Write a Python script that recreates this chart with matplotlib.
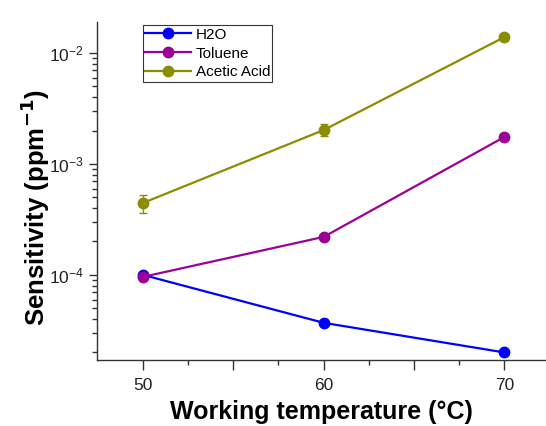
import numpy as np
import matplotlib
matplotlib.use("Agg")
import matplotlib.pyplot as plt

plt.rcParams['font.family'] = ['Liberation Sans', 'DejaVu Sans']

temps = [50, 60, 70]
h2o = [1.0e-4, 3.7e-5, 2.0e-5]
toluene = [9.6e-5, 2.2e-4, 1.75e-3]
acetic = [4.45e-4, 2.02e-3, 1.39e-2]
acetic_err = [8e-5, 2.5e-4, 0]

series = [
    ('H2O', h2o, None, '#0000FF'),
    ('Toluene', toluene, None, '#9C0096'),
    ('Acetic Acid', acetic, acetic_err, '#8C8C00'),
]

fig = plt.figure(figsize=(5.46, 4.26), dpi=100)
ax = fig.add_axes([0.1777, 0.1549, 0.8223, 0.7934])

for name, vals, err, col in series:
    if err is not None:
        ax.errorbar(temps, vals, yerr=err, fmt='none', ecolor=col, capsize=3,
                    elinewidth=1, capthick=1)
    ax.plot(temps, vals, color=col, lw=1.6, marker='o', ms=7.5,
            mec=col, mfc=col, label=name)

ax.set_yscale('log')
ax.set_ylim(1.71e-5, 1.9e-2)
ax.set_xlim(47.46, 72.3)
ax.set_xticks([50, 55, 60, 65, 70])
ax.set_xticklabels(['50', '', '60', '', '70'])
ax.set_xticks([52.5, 57.5, 62.5, 67.5], minor=True)

ax.spines['top'].set_visible(False)
ax.spines['right'].set_visible(False)
for s in ['left', 'bottom']:
    ax.spines[s].set_color('#333333')
    ax.spines[s].set_linewidth(1.0)

ax.tick_params(axis='both', which='major', direction='out', length=6, width=1,
               labelsize=12.5, colors='#333333', labelcolor='#222222')
ax.tick_params(axis='both', which='minor', direction='out', length=3.5, width=1,
               colors='#333333')
ax.tick_params(axis='x', which='major', length=7, pad=6)

ax.set_xlabel('Working temperature (°C)', fontsize=18, fontweight='bold', labelpad=5)
ax.set_ylabel('Sensitivity (ppm$^{\\mathbf{-1}}$)', fontsize=18.5, fontweight='bold')
ax.yaxis.set_label_coords(-0.1, 0.45)

leg = ax.legend(loc='upper left', bbox_to_anchor=(0.102, 0.99), fontsize=11,
                frameon=True, fancybox=False, borderpad=0.15, labelspacing=0.32,
                handlelength=3.0, handletextpad=0.3, borderaxespad=0)
leg.get_frame().set_edgecolor('black')
leg.get_frame().set_linewidth(0.8)

fig.savefig('out.png', dpi=100)
